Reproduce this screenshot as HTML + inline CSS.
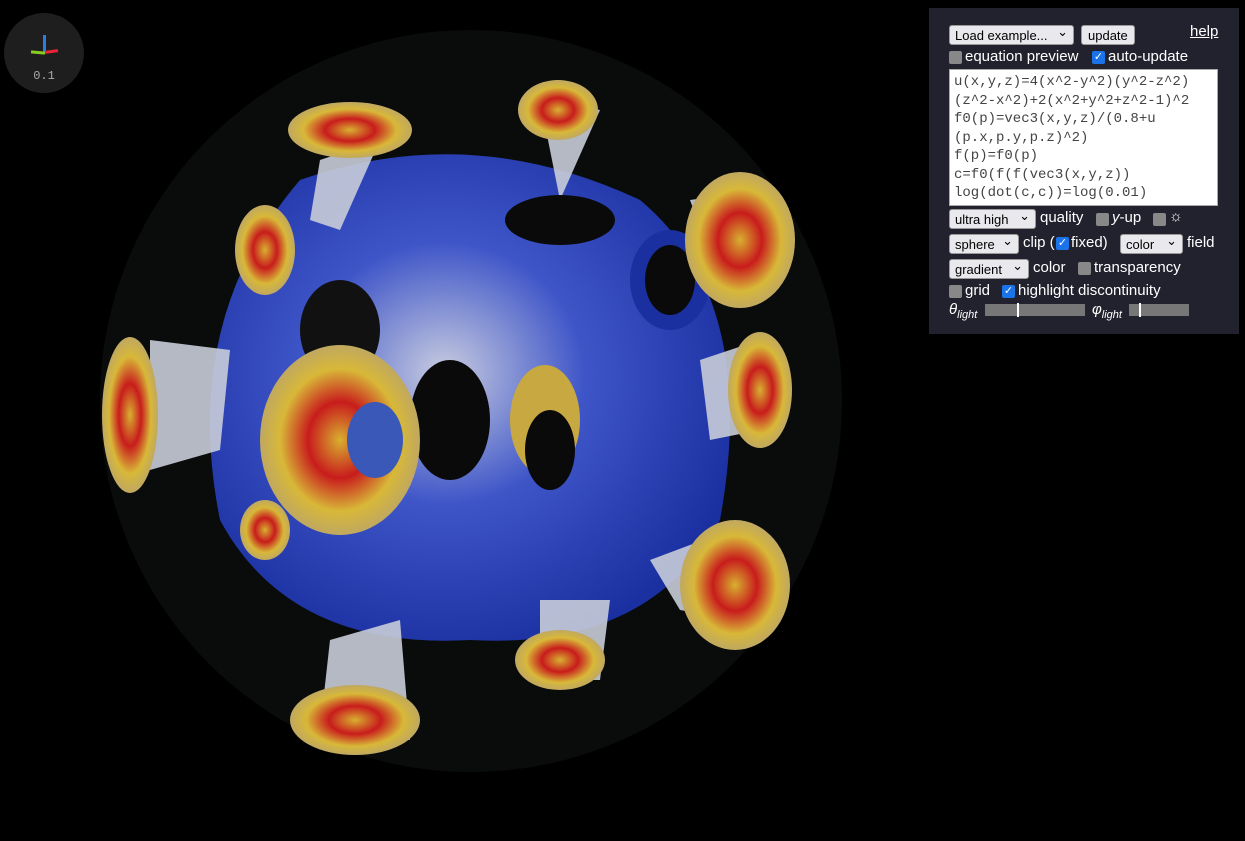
<!DOCTYPE html>
<html><head><meta charset="utf-8"><style>
body{margin:0;width:1245px;height:841px;background:#000;overflow:hidden;font-family:"Liberation Sans",sans-serif;position:relative}
#panel{position:absolute;left:929px;top:8px;width:310px;height:326px;background:#22222f;color:#fff;font-size:15px}
.sel{position:absolute;background:#e9e9ed;color:#000;border:1px solid #999;border-radius:3px;font-size:13px;height:20px;line-height:20px;padding-left:5px;box-sizing:border-box}
.sel.dd:after{content:"⌄";position:absolute;right:5px;top:-4px}
.cb{position:absolute;width:13px;height:13px;border-radius:2px;background:#888}
.cb.on{background:#1a73e8;color:#fff;font-size:11px;line-height:13px;text-align:center}
.t{position:absolute;white-space:nowrap}
#eq{position:absolute;left:20px;top:61px;width:269px;height:137px;background:#fff;color:#444;font-family:"Liberation Mono",monospace;font-size:14px;line-height:18.5px;padding:3px 4px;box-sizing:border-box;white-space:pre;border:1px solid #aaa}
.sl{position:absolute;height:12px;background:#777}
.kn{position:absolute;width:2px;height:14px;background:#fff;top:-1px}
</style></head><body>
<svg width="1245" height="841" style="position:absolute;left:0;top:0">
<defs>
<radialGradient id="bl" cx="0.45" cy="0.45" r="0.6"><stop offset="0" stop-color="#c8cce0"/><stop offset="0.45" stop-color="#3e55c8"/><stop offset="1" stop-color="#1a2fa0"/></radialGradient>
<radialGradient id="ry" cx="0.5" cy="0.5" r="0.5"><stop offset="0" stop-color="#d8b030"/><stop offset="0.4" stop-color="#c81c1c"/><stop offset="0.75" stop-color="#d8b838"/><stop offset="1" stop-color="#c0a860"/></radialGradient>
</defs>
<circle cx="471" cy="401" r="371" fill="#0a0c0c"/>
<g>
<path d="M300 180 Q470 120 640 200 Q760 300 720 520 Q650 650 470 640 Q290 650 220 520 Q180 320 300 180Z" fill="url(#bl)"/>
<g fill="#c8ccd8" opacity="0.9">
<polygon points="320,160 380,140 340,230 310,220"/>
<polygon points="540,100 600,110 560,200"/>
<polygon points="690,200 760,190 720,280"/>
<polygon points="150,340 230,350 220,450 150,470"/>
<polygon points="700,360 760,340 760,430 710,440"/>
<polygon points="650,560 730,530 740,620 680,610"/>
<polygon points="330,640 400,620 410,740 320,730"/>
<polygon points="540,600 610,600 600,680 540,680"/>
</g>
<ellipse cx="450" cy="420" rx="40" ry="60" fill="#0a0a0a"/>
<ellipse cx="545" cy="420" rx="35" ry="55" fill="#c8a840"/>
<ellipse cx="560" cy="220" rx="55" ry="25" fill="#0a0a0a"/>
<ellipse cx="550" cy="450" rx="25" ry="40" fill="#0a0a0a"/>
<ellipse cx="340" cy="330" rx="40" ry="50" fill="#111"/>
<ellipse cx="670" cy="280" rx="40" ry="50" fill="#1a2fa0"/>
<ellipse cx="670" cy="280" rx="25" ry="35" fill="#0a0a0a"/>
<ellipse cx="350" cy="130" rx="62" ry="28" fill="url(#ry)"/>
<ellipse cx="558" cy="110" rx="40" ry="30" fill="url(#ry)"/>
<ellipse cx="740" cy="240" rx="55" ry="68" fill="url(#ry)"/>
<ellipse cx="265" cy="250" rx="30" ry="45" fill="url(#ry)"/>
<ellipse cx="130" cy="415" rx="28" ry="78" fill="url(#ry)"/>
<ellipse cx="760" cy="390" rx="32" ry="58" fill="url(#ry)"/>
<ellipse cx="340" cy="440" rx="80" ry="95" fill="url(#ry)"/>
<ellipse cx="375" cy="440" rx="28" ry="38" fill="#3a58b8"/>
<ellipse cx="735" cy="585" rx="55" ry="65" fill="url(#ry)"/>
<ellipse cx="560" cy="660" rx="45" ry="30" fill="url(#ry)"/>
<ellipse cx="355" cy="720" rx="65" ry="35" fill="url(#ry)"/>
<ellipse cx="265" cy="530" rx="25" ry="30" fill="url(#ry)"/>
</g>
</svg>
<div style="position:absolute;left:4px;top:13px;width:80px;height:80px;border-radius:50%;background:#1e1e1e">
<div style="position:absolute;left:39px;top:22px;width:3px;height:18px;background:#2a7de8"></div>
<div style="position:absolute;left:27px;top:38px;width:14px;height:3px;background:#8c2;transform:rotate(5deg)"></div>
<div style="position:absolute;left:41px;top:37px;width:13px;height:3px;background:#e23;transform:rotate(-8deg)"></div>
<div style="position:absolute;left:0;top:56px;width:80px;text-align:center;color:#aaa;font-family:'Liberation Mono',monospace;font-size:12px">0.1</div>
</div>
<div id="panel">
<div class="sel dd" style="left:20px;top:17px;width:125px">Load example...</div>
<div class="sel" style="left:152px;top:17px;width:54px;padding-left:6px">update</div>
<div class="t" style="left:261px;top:15px;text-decoration:underline">help</div>
<div class="cb" style="left:20px;top:43px"></div>
<div class="t" style="left:36px;top:40px">equation preview</div>
<div class="cb on" style="left:163px;top:43px">✓</div>
<div class="t" style="left:179px;top:40px">auto-update</div>
<div id="eq">u(x,y,z)=4(x^2-y^2)(y^2-z^2)
(z^2-x^2)+2(x^2+y^2+z^2-1)^2
f0(p)=vec3(x,y,z)/(0.8+u
(p.x,p.y,p.z)^2)
f(p)=f0(p)
c=f0(f(f(vec3(x,y,z))
log(dot(c,c))=log(0.01)</div>
<div class="sel dd" style="left:20px;top:201px;width:87px">ultra high</div>
<div class="t" style="left:111px;top:201px">quality</div>
<div class="cb" style="left:167px;top:205px"></div>
<div class="t" style="left:183px;top:201px"><i>y</i>-up</div>
<div class="cb" style="left:224px;top:205px"></div>
<div class="t" style="left:240px;top:200px">☼</div>
<div class="sel dd" style="left:20px;top:226px;width:70px">sphere</div>
<div class="t" style="left:94px;top:226px">clip (</div>
<div class="cb on" style="left:127px;top:229px">✓</div>
<div class="t" style="left:142px;top:226px">fixed)</div>
<div class="sel dd" style="left:191px;top:226px;width:63px">color</div>
<div class="t" style="left:258px;top:226px">field</div>
<div class="sel dd" style="left:20px;top:251px;width:80px">gradient</div>
<div class="t" style="left:104px;top:251px">color</div>
<div class="cb" style="left:149px;top:254px"></div>
<div class="t" style="left:165px;top:251px">transparency</div>
<div class="cb" style="left:20px;top:277px"></div>
<div class="t" style="left:36px;top:274px">grid</div>
<div class="cb on" style="left:73px;top:277px">✓</div>
<div class="t" style="left:89px;top:274px">highlight discontinuity</div>
<div class="t" style="left:20px;top:293px"><i>θ<sub style="font-size:11px">light</sub></i></div>
<div class="sl" style="left:56px;top:296px;width:100px"><div class="kn" style="left:32px"></div></div>
<div class="t" style="left:163px;top:293px"><i>φ<sub style="font-size:11px">light</sub></i></div>
<div class="sl" style="left:200px;top:296px;width:60px"><div class="kn" style="left:10px"></div></div>
</div>
</body></html>
